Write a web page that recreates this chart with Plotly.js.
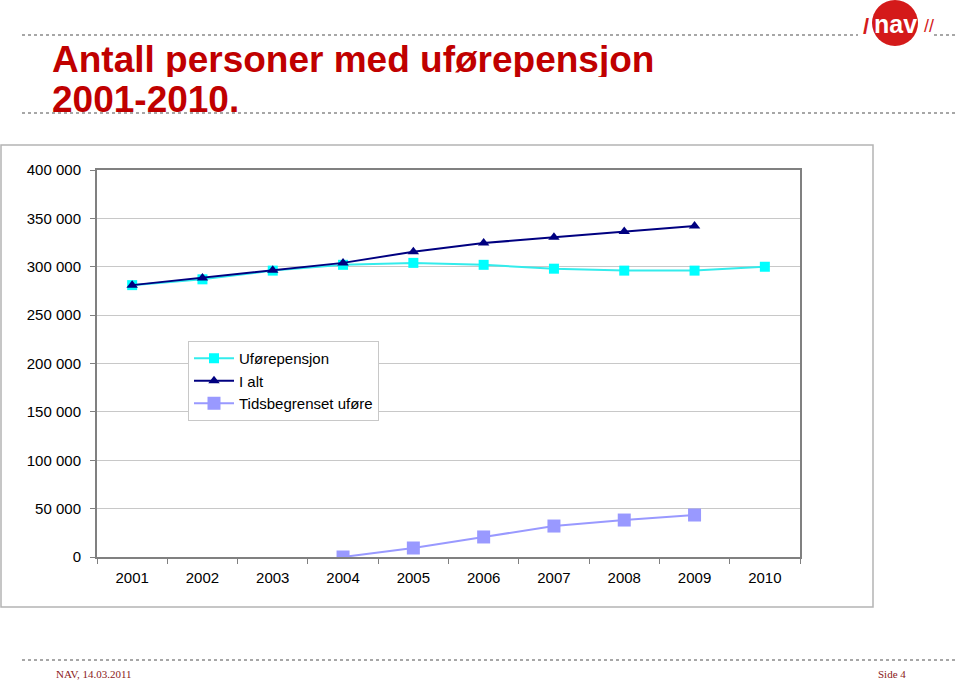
<!DOCTYPE html>
<html>
<head>
<meta charset="utf-8">
<script src="https://cdn.plot.ly/plotly-3.0.1.min.js"></script>
<style>
html,body{margin:0;padding:0;background:#fff;}
#chart{width:959px;height:683px;}
</style>
</head>
<body>
<div id="chart"></div>
<script>
// ---- data ----
const years = ["2001","2002","2003","2004","2005","2006","2007","2008","2009","2010"];
const uforepensjon = [281000, 287000, 296000, 302000, 304000, 302000, 298000, 296000, 296000, 300000];
const ialt = [281000, 288500, 296500, 304000, 315500, 324500, 330500, 336500, 342000, null];
const tidsbegrenset = [null, null, null, 0, 9300, 20700, 32000, 38200, 43400, null];
const yTickVals = [0, 50000, 100000, 150000, 200000, 250000, 300000, 350000, 400000];
const yTickText = ["0", "50 000", "100 000", "150 000", "200 000", "250 000", "300 000", "350 000", "400 000"];

// ---- geometry helpers (pixel -> paper) ----
const W = 959, H = 683;
const L = 97, R = 800, T = 170, B = 557;
const px = x => (x - L) / (R - L);
const py = y => (B - y) / (B - T);

const traces = [
  {x: years, y: uforepensjon, name: "Uførepensjon", type: "scatter", mode: "lines+markers",
   line: {color: "#33ecec", width: 2}, marker: {symbol: "square", size: 10, color: "#00ffff"}},
  {x: years, y: ialt, name: "I alt", type: "scatter", mode: "lines+markers",
   line: {color: "#000080", width: 2}, marker: {symbol: "triangle-up", size: 10, color: "#000080"}},
  {x: years, y: tidsbegrenset, name: "Tidsbegrenset uføre", type: "scatter", mode: "lines+markers",
   line: {color: "#9999ff", width: 2}, marker: {symbol: "square", size: 13, color: "#9999ff"}}
];

const dotted = (x0, x1, y) => ({type: "line", xref: "paper", yref: "paper",
  x0: px(x0), x1: px(x1), y0: py(y), y1: py(y), line: {color: "#8a8a8a", width: 1.5, dash: "dot"}});

const layout = {
  width: W, height: H,
  margin: {l: L, r: W - R, t: T, b: H - B, pad: 0},
  paper_bgcolor: "#fff", plot_bgcolor: "#fff",
  showlegend: true,
  font: {family: "Liberation Sans, Arial, sans-serif", size: 14, color: "#000"},
  xaxis: {
    type: "category", range: [-0.5, 9.5], fixedrange: true,
    showline: true, linecolor: "#808080", linewidth: 2, mirror: true,
    ticks: "outside", tickson: "boundaries", ticklen: 5, tickcolor: "#808080",
    showgrid: false, zeroline: false, ticklabelstandoff: 6,
    tickfont: {size: 15, family: "Liberation Sans, Arial, sans-serif"}
  },
  yaxis: {
    range: [0, 400000], fixedrange: true,
    tickvals: yTickVals, ticktext: yTickText,
    showline: true, linecolor: "#808080", linewidth: 2, mirror: true,
    ticks: "outside", ticklen: 5, tickcolor: "#808080", ticklabelstandoff: 6,
    showgrid: true, gridcolor: "#c8c8c8", gridwidth: 1, zeroline: false,
    tickfont: {size: 15, family: "Liberation Sans, Arial, sans-serif"}
  },
  legend: {
    x: px(188), y: py(341), xanchor: "left", yanchor: "top",
    bgcolor: "#fff", bordercolor: "#c8c8c8", borderwidth: 1,
    font: {size: 15}, tracegroupgap: 0, itemwidth: 40
  },
  shapes: [
    // outer chart frame
    {type: "rect", xref: "paper", yref: "paper", x0: px(1), x1: px(873), y0: py(607), y1: py(145),
     line: {color: "#b4b4b4", width: 1.5}, layer: "below"},
    dotted(22, 858, 35),
    dotted(934, 958, 35),
    dotted(22, 958, 113),
    dotted(22, 958, 660),
    // logo circle
    {type: "circle", xref: "paper", yref: "paper", x0: px(872), x1: px(918), y0: py(46), y1: py(0),
     fillcolor: "#d41a1a", line: {color: "#d41a1a", width: 0}, layer: "above"}
  ],
  annotations: [
    {text: "<b>Antall personer med uførepensjon</b>", xref: "paper", yref: "paper",
     x: px(50), y: py(79), xanchor: "left", yanchor: "bottom", showarrow: false, height: 36,
     font: {family: "Liberation Sans, Arial, sans-serif", size: 37, color: "#c00000"}},
    {text: "<b>2001-2010.</b>", xref: "paper", yref: "paper",
     x: px(50), y: py(80), xanchor: "left", yanchor: "top", showarrow: false, height: 35,
     font: {family: "Liberation Sans, Arial, sans-serif", size: 37, color: "#c00000"}},
    {text: "<b>nav</b>", xref: "paper", yref: "paper",
     x: px(895), y: py(24), xanchor: "center", yanchor: "middle", showarrow: false,
     font: {family: "Liberation Sans, Arial, sans-serif", size: 25, color: "#ffffff"}},
    {text: "<b>/</b>", xref: "paper", yref: "paper",
     x: px(866), y: py(26), xanchor: "center", yanchor: "middle", showarrow: false,
     font: {family: "Liberation Sans, Arial, sans-serif", size: 22, color: "#d41a1a"}},
    {text: "//", xref: "paper", yref: "paper",
     x: px(929), y: py(26), xanchor: "center", yanchor: "middle", showarrow: false,
     font: {family: "Liberation Sans, Arial, sans-serif", size: 18, color: "#d41a1a"}},
    {text: "NAV, 14.03.2011", xref: "paper", yref: "paper",
     x: px(54), y: py(674), xanchor: "left", yanchor: "middle", showarrow: false,
     font: {family: "Liberation Serif, Times New Roman, serif", size: 11, color: "#8b1a1a"}},
    {text: "Side 4", xref: "paper", yref: "paper",
     x: px(876), y: py(674), xanchor: "left", yanchor: "middle", showarrow: false,
     font: {family: "Liberation Serif, Times New Roman, serif", size: 11, color: "#8b1a1a"}}
  ]
};

Plotly.newPlot("chart", traces, layout, {displayModeBar: false, staticPlot: true});
</script>
</body>
</html>
